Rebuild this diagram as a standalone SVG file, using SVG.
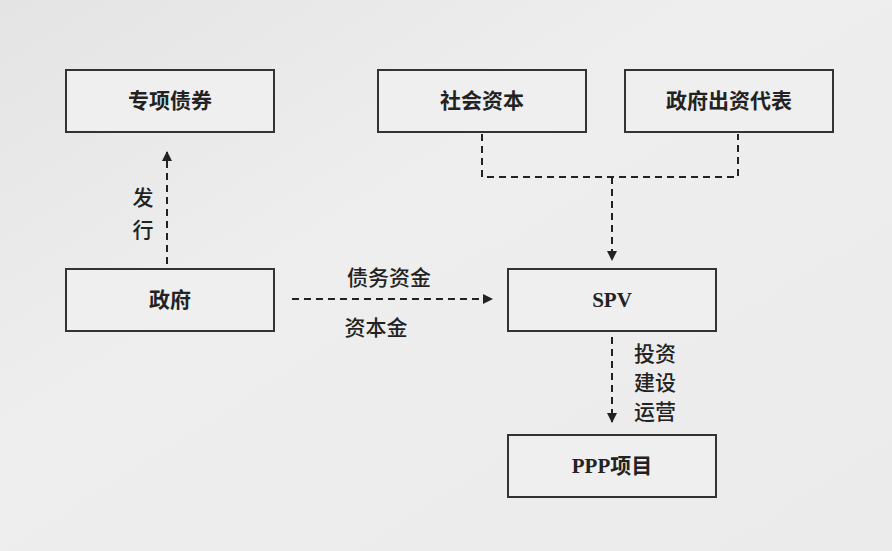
<svg xmlns="http://www.w3.org/2000/svg" width="892" height="551" viewBox="0 0 892 551">
<defs>
<linearGradient id="bg" x1="0" y1="0" x2="1" y2="1">
<stop offset="0" stop-color="#e4e4e4"/><stop offset="0.4" stop-color="#eeeeee"/><stop offset="1" stop-color="#ebebeb"/>
</linearGradient>
<marker id="ah" viewBox="0 0 10 10" refX="9" refY="5" markerWidth="5" markerHeight="5" orient="auto"><path d="M0,0 L10,5 L0,10 z" fill="#222"/></marker>
<style>
.box{fill:#efefef;stroke:#333;stroke-width:2}
.t{font-family:"Liberation Serif","Noto Sans CJK SC",serif;font-size:21px;font-weight:bold;fill:#222;text-anchor:middle;dominant-baseline:central}
.l{font-family:"Noto Sans CJK SC","Liberation Sans",sans-serif;font-size:21px;font-weight:500;fill:#222;text-anchor:middle;dominant-baseline:central}
.c{fill:none;stroke:#222;stroke-width:2;stroke-dasharray:7,5}
</style>
</defs>
<rect width="892" height="551" fill="url(#bg)"/>
<g id="n1"><rect class="box" x="66" y="70" width="208" height="62"/><text class="t" x="170" y="101">专项债券</text></g>
<g id="n2"><rect class="box" x="378" y="70" width="208" height="62"/><text class="t" x="482" y="101">社会资本</text></g>
<g id="n3"><rect class="box" x="625" y="70" width="208" height="62"/><text class="t" x="729" y="101">政府出资代表</text></g>
<g id="n4"><rect class="box" x="66" y="269" width="208" height="62"/><text class="t" x="170" y="300">政府</text></g>
<g id="n5"><rect class="box" x="508" y="269" width="208" height="62"/><text class="t" x="612" y="300">SPV</text></g>
<g id="n6"><rect class="box" x="508" y="435" width="208" height="62"/><text class="t" x="612" y="466">PPP项目</text></g>
<g id="connectors">
<path class="c" d="M167,264 V152" marker-end="url(#ah)"/>
<path class="c" d="M482,134 V177 H738 V134"/>
<path class="c" d="M612,177 V260" marker-end="url(#ah)"/>
<path class="c" d="M292,299 H492" marker-end="url(#ah)"/>
<path class="c" d="M612,337 V422" marker-end="url(#ah)"/>
<text class="l" x="143" y="196">发</text>
<text class="l" x="143" y="228">行</text>
<text class="l" x="389" y="276">债务资金</text>
<text class="l" x="376" y="326">资本金</text>
<text class="l" x="655" y="352">投资</text>
<text class="l" x="655" y="381">建设</text>
<text class="l" x="655" y="410">运营</text>
</g>
</svg>
